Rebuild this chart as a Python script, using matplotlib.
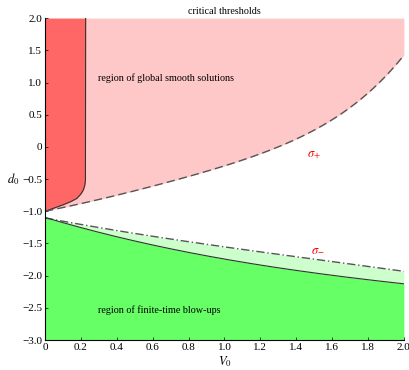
import matplotlib
matplotlib.use("Agg")
import matplotlib.pyplot as plt
import numpy as np

# values
v0 = [0.0, 0.2, 0.4, 0.6, 0.8, 1.0, 1.2, 1.4, 1.6, 1.8, 2.0]
sigma_plus = [-1.00, -0.88, -0.75, -0.61, -0.46, -0.30, -0.10, 0.13, 0.40, 0.85, 1.42]
sigma_minus = [-1.10, -1.21, -1.30, -1.39, -1.47, -1.55, -1.63, -1.71, -1.78, -1.86, -1.93]
blowup_edge = [-1.10, -1.25, -1.39, -1.53, -1.64, -1.74, -1.84, -1.92, -1.99, -2.06, -2.13]

# red region edge: V as a function of d
red_d = [-1.0, -0.95, -0.9, -0.85, -0.8, -0.73, -0.67, -0.6, -0.52, 2.0]
red_v = [0.0, 0.05, 0.10, 0.143, 0.177, 0.200, 0.213, 0.221, 0.225, 0.226]

xticks = [0, 0.2, 0.4, 0.6, 0.8, 1.0, 1.2, 1.4, 1.6, 1.8, 2.0]
xticklabels = ["0", "0.2", "0.4", "0.6", "0.8", "1.0", "1.2", "1.4", "1.6", "1.8", "2.0"]
yticks = [-3.0, -2.5, -2.0, -1.5, -1.0, -0.5, 0, 0.5, 1.0, 1.5, 2.0]
yticklabels = ["\u22123.0", "\u22122.5", "\u22122.0", "\u22121.5", "\u22121.0", "\u22120.5", "0", "0.5", "1.0", "1.5", "2.0"]

plt.rcParams['font.family'] = ['Liberation Serif', 'DejaVu Serif']
plt.rcParams['mathtext.fontset'] = 'stix'

fig = plt.figure(figsize=(4.1, 3.7), dpi=100)
ax = fig.add_axes([0.11, 0.081, 0.875, 0.87])

# smooth curves through the read points
vv = np.linspace(0, 2, 300)
sp = np.polyval(np.polyfit(v0, sigma_plus, 5), vv)
sm = np.polyval(np.polyfit(v0, sigma_minus, 3), vv)
be = np.polyval(np.polyfit(v0, blowup_edge, 3), vv)
sp[0], sm[0], be[0] = sigma_plus[0], sigma_minus[0], blowup_edge[0]

ax.fill_between(vv, sp, 2.0, color="#ffc8c8", lw=0)
ax.fill_between(vv, be, sm, color="#ccffcc", lw=0)
ax.fill_between(vv, -3.0, be, color="#66ff66", lw=0)
ax.fill_betweenx(red_d, 0, red_v, color="#ff6666", lw=0)

ax.plot(red_v, red_d, color="#333333", lw=0.8)
ax.plot(vv, sp, color="#555555", lw=1.0, ls=(0, (6, 3)))
ax.plot(vv, sm, color="#555555", lw=1.0, ls=(0, (6, 2, 1, 2)))
ax.plot(vv, be, color="#333333", lw=0.8)

ax.text(0.295, 1.07, "region of global smooth solutions", fontsize=7.3, va="center")
ax.text(0.295, -2.53, "region of finite-time blow-ups", fontsize=7.3, va="center")
ax.text(1.50, -0.13, r"$\sigma_{+}$", color="red", fontsize=9, ha="center", va="center")
ax.text(1.52, -1.60, r"$\sigma_{-}$", color="red", fontsize=9, ha="center", va="center")
ax.set_title("critical thresholds", fontsize=7.3, pad=3)

ax.set_xlim(0, 2)
ax.set_ylim(-3, 2)
ax.set_xticks(xticks)
ax.set_xticklabels(xticklabels)
ax.set_yticks(yticks)
ax.set_yticklabels(yticklabels)
ax.tick_params(labelsize=8, direction="in", length=2, width=0.5, pad=2)
for s in ["top", "right"]:
    ax.spines[s].set_visible(False)
for s in ["left", "bottom"]:
    ax.spines[s].set_linewidth(0.8)

ax.set_xlabel(r"$V_0$", fontsize=9, labelpad=2)
ax.set_ylabel(r"$d_0$", fontsize=9, rotation=0, va="center", ha="center")
ax.yaxis.set_label_coords(-0.09, 0.5)

fig.savefig("out.png", dpi=100)
